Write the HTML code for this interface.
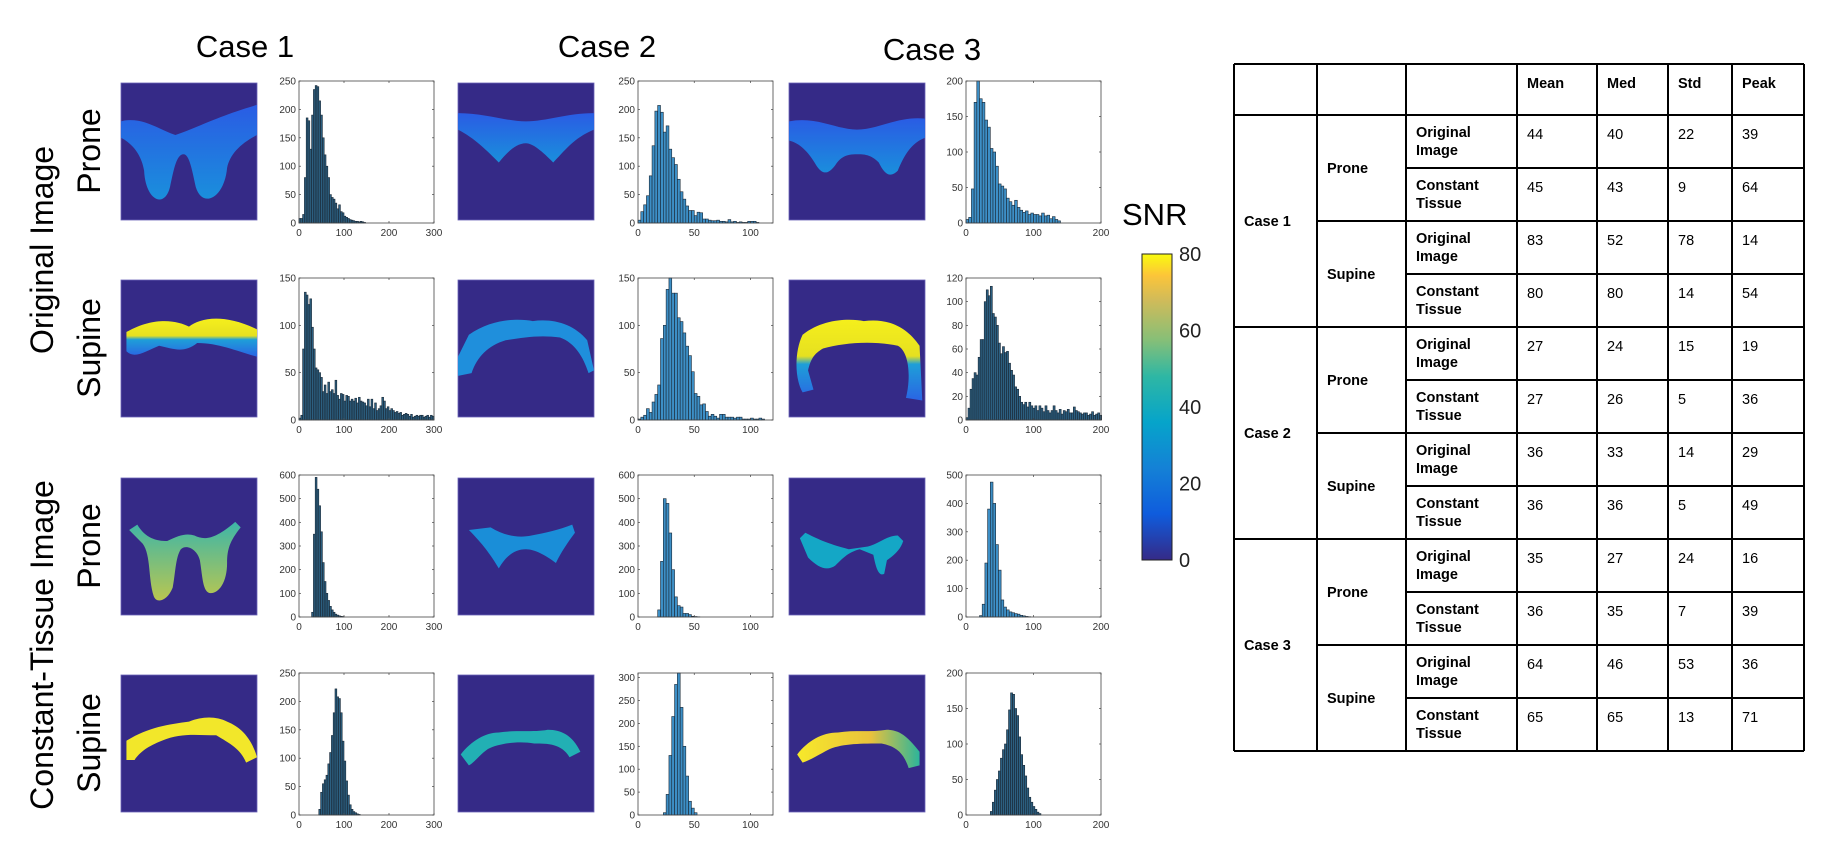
<!DOCTYPE html>
<html><head><meta charset="utf-8"><style>
html,body{margin:0;padding:0;background:#fff;}
svg{display:block;font-family:"Liberation Sans",Arial,sans-serif;}
</style></head><body>
<svg id="fig" width="1827" height="863" viewBox="0 0 1827 863">
<defs>
<linearGradient id="parula" x1="0" y1="1" x2="0" y2="0">
<stop offset="0" stop-color="#352a87"/><stop offset="0.15" stop-color="#0f5cdd"/><stop offset="0.3" stop-color="#1481d6"/><stop offset="0.45" stop-color="#06a4ca"/><stop offset="0.6" stop-color="#2eb7a4"/><stop offset="0.72" stop-color="#87bf77"/><stop offset="0.85" stop-color="#d1bb59"/><stop offset="0.93" stop-color="#fcc539"/><stop offset="1" stop-color="#f9fb0e"/>
</linearGradient>
<linearGradient id="origBlue" x1="0" y1="0" x2="0" y2="1"><stop offset="0" stop-color="#2a5ce4"/><stop offset="1" stop-color="#1a8fdc"/></linearGradient>
<linearGradient id="supYel" x1="0" y1="0" x2="0" y2="1"><stop offset="0" stop-color="#f5ef1c"/><stop offset="0.45" stop-color="#e6e020"/><stop offset="0.55" stop-color="#1e9fd8"/><stop offset="1" stop-color="#2a64e4"/></linearGradient>
<linearGradient id="ct3sup" x1="0" y1="0" x2="1" y2="0"><stop offset="0" stop-color="#f7e92a"/><stop offset="0.6" stop-color="#e9c23c"/><stop offset="1" stop-color="#2db59a"/></linearGradient>
<linearGradient id="ct1pro" x1="0" y1="0" x2="0" y2="1"><stop offset="0" stop-color="#3db6a8"/><stop offset="1" stop-color="#b9c650"/></linearGradient>
</defs>
<g id="labels"></g>
<g id="images"></g>
<g id="hists"></g>
<g id="colorbar"></g>
<g id="table"></g>
</svg>
<script>
// ---------- histogram data ----------
const xTicksC1 = [0,100,200,300];
const xTicksC2 = [0,50,100];
const xTicksC3 = [0,100,200];
const c1ProneOrigCounts = [8,8,15,80,185,180,130,190,235,242,240,215,190,150,120,100,80,50,45,42,35,25,32,20,18,12,10,8,6,5,4,3,3,2,3,2,1];
const c1SupineOrigCounts = [2,5,75,135,132,122,128,98,75,55,53,50,45,30,37,28,40,30,32,28,42,26,22,28,27,20,26,25,20,22,20,23,18,24,20,19,18,15,22,14,22,12,18,10,12,15,24,20,12,14,10,12,10,8,9,7,8,5,6,7,6,4,6,3,4,5,4,5,5,3,4,5,3,5,4];
const c1ProneCTCounts = [20,350,590,540,470,360,230,150,100,70,45,30,20,12,8,5,3,2];
const c1SupineCTCounts = [10,40,55,62,70,90,110,140,180,222,208,205,180,130,95,60,35,18,10,6,4,2,1];
const c2ProneOrigCounts = [5,20,32,48,83,136,197,207,195,160,171,130,115,103,77,55,42,30,22,22,13,19,18,7,7,5,4,4,5,3,3,2,6,2,3,1,2,1,1,3,3,3,1];
const c2SupineOrigCounts = [1,3,5,12,8,19,27,37,86,100,138,150,134,134,108,104,92,78,68,51,28,25,16,17,9,4,6,4,2,6,6,3,3,3,2,3,3,1,1,1,2,1,1,2,1];
const c2ProneCTCounts = [30,235,500,480,355,200,85,48,42,15,15,10,3,2,1];
const c2SupineCTCounts = [5,45,130,215,285,310,235,150,85,30,15,5];
const c3ProneOrigCounts = [5,8,48,170,200,175,170,145,135,105,100,80,55,52,48,35,30,25,32,22,18,15,17,12,14,12,12,10,14,10,11,6,9,5,3];
const c3SupineOrigCounts = [2,10,26,35,40,38,53,68,68,100,110,105,113,90,87,80,65,56,62,57,58,48,42,38,28,26,20,15,13,15,11,15,12,10,12,8,12,10,7,12,8,6,8,12,8,6,9,5,8,7,9,6,6,11,8,7,6,5,6,6,4,5,7,4,5,6,4];
const c3ProneCTCounts = [5,45,190,380,475,400,255,165,60,35,25,18,15,12,10,6,4,2,1];
const c3SupineCTCounts = [5,18,35,50,62,80,92,100,120,148,172,170,150,140,110,85,70,55,38,25,18,12,8,4,2];

// panel definitions: [name, counts, binStart, binWidth, xMax, yMax, xTicks, yStep, left, top]
const panels = [
 ['hist-case1-prone-original', c1ProneOrigCounts, 0, 4, 300, 250, xTicksC1, 50, 299, 81],
 ['hist-case1-supine-original', c1SupineOrigCounts, 0, 4, 300, 150, xTicksC1, 50, 299, 278],
 ['hist-case1-prone-constant', c1ProneCTCounts, 28, 4, 300, 600, xTicksC1, 100, 299, 475],
 ['hist-case1-supine-constant', c1SupineCTCounts, 44, 4, 300, 250, xTicksC1, 50, 299, 673],
 ['hist-case2-prone-original', c2ProneOrigCounts, 0, 2.5, 120, 250, xTicksC2, 50, 638, 81],
 ['hist-case2-supine-original', c2SupineOrigCounts, 0, 2.5, 120, 150, xTicksC2, 50, 638, 278],
 ['hist-case2-prone-constant', c2ProneCTCounts, 17.5, 2.5, 120, 600, xTicksC2, 100, 638, 475],
 ['hist-case2-supine-constant', c2SupineCTCounts, 22.5, 2.5, 120, 310, xTicksC2, 50, 638, 673],
 ['hist-case3-prone-original', c3ProneOrigCounts, 0, 4, 200, 200, xTicksC3, 50, 966, 81],
 ['hist-case3-supine-original', c3SupineOrigCounts, 0, 3, 200, 120, xTicksC3, 20, 966, 278],
 ['hist-case3-prone-constant', c3ProneCTCounts, 20, 4, 200, 500, xTicksC3, 100, 966, 475],
 ['hist-case3-supine-constant', c3SupineCTCounts, 36, 3, 200, 200, xTicksC3, 50, 966, 673]
];
const NS='http://www.w3.org/2000/svg';
function mk(tag, attrs, parent){const e=document.createElementNS(NS,tag);for(const k in attrs)e.setAttribute(k,attrs[k]);parent.appendChild(e);return e;}
const W=135, H=142;
const hg=document.getElementById('hists');
panels.forEach(p=>{
  const [name,counts,start,bw,xMax,yMax,xt,yStep,L,T]=p;
  const g=mk('g',{},hg);
  
  
  const sx=v=>L+v/xMax*W, sy=v=>T+H-v/yMax*H;
  const pxw = bw/xMax*W;
  const fill = pxw < 2.5 ? '#2c5f80' : '#3d8fc6';
  counts.forEach((c,i)=>{
    const x0=sx(start+i*bw), x1=sx(start+(i+1)*bw);
    const r=mk('rect',{x:x0,y:sy(c),width:Math.max(x1-x0,0.5),height:T+H-sy(c),fill:fill,stroke:'#1a2836','stroke-width':0.6},g);
    
    
  });
  const box=mk('rect',{x:L,y:T,width:W,height:H,fill:'none',stroke:'#444','stroke-width':0.8},g);
  
  
  xt.forEach(v=>{
    const x=sx(v);
    mk('line',{x1:x,y1:T+H,x2:x,y2:T+H-2,stroke:'#444','stroke-width':0.7},g);
    mk('line',{x1:x,y1:T,x2:x,y2:T+2,stroke:'#444','stroke-width':0.7},g);
    const t=mk('text',{x:x,y:T+H+13,'font-size':10,'text-anchor':'middle',fill:'#333'},g);
    t.textContent=v;
    
    
  });
  for(let v=0; v<=yMax; v+=yStep){
    const y=sy(v);
    mk('line',{x1:L,y1:y,x2:L+2,y2:y,stroke:'#444','stroke-width':0.7},g);
    mk('line',{x1:L+W,y1:y,x2:L+W-2,y2:y,stroke:'#444','stroke-width':0.7},g);
    const t=mk('text',{x:L-3,y:y+3.5,'font-size':10,'text-anchor':'end',fill:'#333'},g);
    t.textContent=v;
    
    
  }
});

// ---------- labels ----------
const lg=document.getElementById('labels');
function label(txt,x,y,size,rot,name){
  const t=mk('text',{x:x,y:y,'font-size':size,'text-anchor':'middle',fill:'#000'},lg);
  if(rot) t.setAttribute('transform','rotate(-90 '+x+' '+y+')');
  t.textContent=txt;
  
  
}
label('Case 1',245,57,31,false,'case-1-title');
label('Case 2',607,57,31,false,'case-2-title');
label('Case 3',932,60,31,false,'case-3-title');
label('Original Image',53,250,32,true,'original-image-label');
label('Constant-Tissue Image',53,645,32,true,'constant-tissue-image-label');
label('Prone',100,151,32,true,'prone-label-1');
label('Supine',100,348,32,true,'supine-label-1');
label('Prone',100,546,32,true,'prone-label-2');
label('Supine',100,743,32,true,'supine-label-2');

// ---------- images ----------
const ig=document.getElementById('images');
const imgCols=[121,458,789], imgRows=[83,280,478,675];
const shapes={
 p1:'M0,28 C15,24 28,34 40,38 C55,33 72,24 100,16 L100,38 C88,44 80,52 78,62 C76,84 60,92 55,76 C52,62 50,52 46,52 C41,52 39,62 36,76 C32,92 18,86 17,64 C15,52 8,44 0,40 Z',
 p2:'M0,22 C20,22 35,28 50,28 C65,28 80,22 100,22 L100,34 C85,40 78,50 70,58 C62,50 55,44 50,44 C42,44 35,52 30,58 C22,50 12,40 0,34 Z',
 p3:'M0,28 C20,24 35,34 50,34 C66,34 80,24 100,26 L100,40 C90,44 85,52 80,64 C74,70 70,66 66,58 C60,52 55,52 50,52 C42,52 38,54 34,60 C28,68 24,66 20,60 C14,50 8,44 0,42 Z',
 s1:'M4,38 C25,26 42,30 50,34 C58,28 75,24 100,36 L100,56 C85,52 72,46 56,46 C46,54 38,50 28,48 C18,52 10,58 4,52 Z',
 s2:'M8,40 C25,28 45,28 55,30 C70,28 85,32 95,44 L100,66 L96,68 C92,56 86,46 75,42 C60,40 48,42 35,44 C22,48 14,56 10,68 L0,70 L0,56 Z',
 s3:'M10,40 C25,28 45,28 55,30 C70,28 85,32 96,48 L98,88 L86,86 C90,70 88,52 80,48 C60,44 40,46 25,50 C18,54 16,58 14,66 L18,80 L10,82 C4,72 4,52 10,40 Z',
 cp1:'M6,38 L12,34 C18,44 26,46 34,46 C42,42 48,40 54,42 C62,46 70,44 84,32 L88,36 C80,46 78,52 78,62 C78,76 72,84 66,84 C60,84 60,72 58,60 C56,52 48,48 44,52 C40,58 40,70 38,80 C34,90 26,92 24,86 C20,74 22,56 16,48 Z',
 cp2:'M8,38 L24,36 C34,42 44,44 54,42 C64,40 74,38 84,34 L86,40 C80,48 76,54 72,62 C64,56 56,52 50,52 C42,52 36,56 30,66 C24,56 18,48 8,38 Z',
 cp3:'M8,44 L12,40 C20,44 28,48 44,52 L58,50 C66,48 72,42 80,42 L84,46 C82,52 78,56 72,60 L70,70 C66,72 64,66 62,56 L52,52 C44,54 40,58 34,64 C28,68 22,66 14,58 Z',
 cs1:'M4,48 C20,38 35,36 50,34 C60,30 70,30 78,34 C88,38 96,46 100,60 L92,64 C88,54 80,50 70,44 C56,44 44,42 30,48 C20,52 14,56 10,62 L4,62 Z',
 cs2:'M2,58 C10,48 20,42 30,42 C42,40 56,42 66,40 C76,40 84,44 90,56 L82,60 C76,50 66,50 56,50 C44,48 30,50 22,54 C16,58 12,64 8,66 Z',
 cs3:'M6,58 C14,48 24,42 36,42 C48,40 60,42 72,40 C82,40 88,46 96,56 L96,66 L88,68 C84,56 78,52 68,50 C54,50 40,50 30,54 C22,58 16,62 10,64 Z'
};
const imgSpecs=[
 ['image-case1-prone-original','p1','url(#origBlue)'],
 ['image-case2-prone-original','p2','url(#origBlue)'],
 ['image-case3-prone-original','p3','url(#origBlue)'],
 ['image-case1-supine-original','s1','url(#supYel)'],
 ['image-case2-supine-original','s2','#1f8fdc'],
 ['image-case3-supine-original','s3','url(#supYel)'],
 ['image-case1-prone-constant','cp1','url(#ct1pro)'],
 ['image-case2-prone-constant','cp2','#1a8ed8'],
 ['image-case3-prone-constant','cp3','#14a7c6'],
 ['image-case1-supine-constant','cs1','#f2e72a'],
 ['image-case2-supine-constant','cs2','#22b0b4'],
 ['image-case3-supine-constant','cs3','url(#ct3sup)']
];
imgSpecs.forEach((s,i)=>{
  const col=i%3, row=Math.floor(i/3);
  const g=mk('g',{transform:'translate('+imgCols[col]+','+imgRows[row]+')'},ig);
  
  
  mk('rect',{x:0,y:0,width:136,height:137,fill:'#352a87',stroke:'#6a63b8','stroke-width':0.8},g);
  mk('path',{d:shapes[s[1]],fill:s[2],transform:'scale(1.36,1.37)'},g);
});

// ---------- colorbar ----------
const cg=document.getElementById('colorbar');
const cbTicks=[0,20,40,60,80];
const cbr=mk('rect',{x:1142,y:254,width:30,height:306,fill:'url(#parula)',stroke:'#222','stroke-width':1},cg);


cbTicks.forEach(v=>{
  const y=560-v/80*306;
  const t=mk('text',{x:1179,y:y+7,'font-size':20,fill:'#222'},cg);
  t.textContent=v;
  
  
});
const snr=mk('text',{x:1122,y:225,'font-size':31,fill:'#000'},cg);
snr.textContent='SNR';



// ---------- table ----------
const tg=document.getElementById('table');
const colX=[1234,1317,1406,1517,1597,1668,1732,1804];
const headers=['Mean','Med','Std','Peak'];
const caseNames=['Case 1','Case 2','Case 3'];
const rowTypes=['Original|Image','Constant|Tissue'];
const tableVals=[[44,40,22,39],[45,43,9,64],[83,52,78,14],[80,80,14,54],[27,24,15,19],[27,26,5,36],[36,33,14,29],[36,36,5,49],[35,27,24,16],[36,35,7,39],[64,46,53,36],[65,65,13,71]];
const T0=64, H0=115, RH=53;
const tb=mk('g',{},tg);


function ln(x1,y1,x2,y2){mk('line',{x1:x1,y1:y1,x2:x2,y2:y2,stroke:'#000','stroke-width':2},tb);}
ln(colX[0],T0,colX[7],T0);
ln(colX[0],H0,colX[7],H0);
for(let r=1;r<=12;r++){
  const y=H0+r*RH;
  const startCol = (r%4===0)?0:((r%2===0)?1:2);
  ln(colX[startCol],y,colX[7],y);
}
colX.forEach(x=>ln(x,T0,x,H0+12*RH));
function tt(txt,x,y,bold,name){
  const t=mk('text',{x:x,y:y,'font-size':14.5,'font-weight':bold?'bold':'normal',fill:'#000'},tb);
  t.textContent=txt;
  
  
}
headers.forEach((h,i)=>tt(h,colX[3+i]+10,88,true,'header-'+h.toLowerCase()));
caseNames.forEach((c,i)=>tt(c,colX[0]+10,H0+i*4*RH+2*RH+5,true,'row-label-case-'+(i+1)));
for(let k=0;k<6;k++){
  tt(k%2===0?'Prone':'Supine',colX[1]+10,H0+k*2*RH+RH+5,true,'row-label-position');
}
for(let r=0;r<12;r++){
  const parts=rowTypes[r%2].split('|');
  tt(parts[0],colX[2]+10,H0+r*RH+22,true,'row-label-image-type');
  tt(parts[1],colX[2]+10,H0+r*RH+40,true,'row-label-image-type');
  tableVals[r].forEach((v,j)=>tt(String(v),colX[3+j]+10,H0+r*RH+24,false,'cell-value'));
}
</script>
</body></html>
